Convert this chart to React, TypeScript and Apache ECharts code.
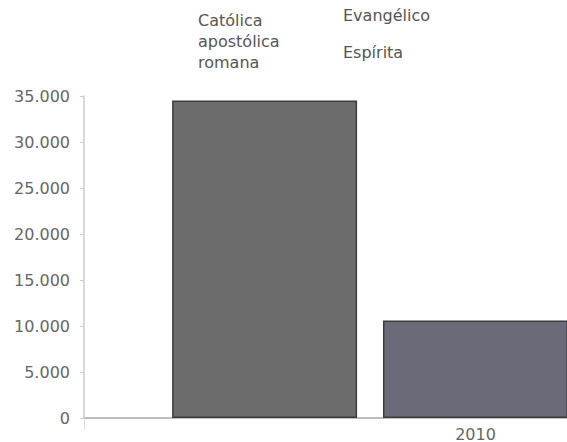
import React, { useEffect, useRef } from "react";
import * as echarts from "echarts";

const categories = ["2010"];
const seriesNames = ["Católica apostólica romana", "Evangélico", "Espírita"];
const catolicaValues = [34500];
const evangelicoValues = [10600];
const espiritaValues = [1200];
const yTicks = [0, 5000, 10000, 15000, 20000, 25000, 30000, 35000];

const fmt = (v: number) => String(v).replace(/\B(?=(\d{3})+(?!\d))/g, ".");

export default function App() {
  const ref = useRef<HTMLDivElement>(null);
  useEffect(() => {
    if (!ref.current) return;
    const chart = echarts.init(ref.current, undefined, { renderer: "svg" });
    const font = "DejaVu Sans";
    const textStyle = { fontFamily: font, fontSize: 16, color: "#555", lineHeight: 21 };
    chart.setOption({
      animation: false,
      backgroundColor: "#fff",
      legend: [
        {
          data: [seriesNames[0]],
          left: 193,
          top: 10,
          padding: 0,
          itemWidth: 0,
          itemHeight: 0,
          icon: "none",
          textStyle,
          formatter: () => "Católica\napostólica\nromana",
        },
        {
          data: [seriesNames[1], seriesNames[2]],
          orient: "vertical",
          left: 338,
          top: 5,
          padding: 0,
          itemGap: 16,
          itemWidth: 0,
          itemHeight: 0,
          icon: "none",
          textStyle,
        },
      ],
      grid: { left: 84, right: 0, top: 96, bottom: 24, containLabel: false },
      xAxis: {
        type: "category",
        data: categories,
        axisLine: { lineStyle: { color: "#aaa", width: 1.5 } },
        axisTick: { show: true, length: 12, lineStyle: { color: "#ddd" } },
        axisLabel: { fontFamily: font, fontSize: 16, color: "#666", margin: 8 },
      },
      yAxis: {
        type: "value",
        min: yTicks[0],
        max: yTicks[yTicks.length - 1],
        interval: yTicks[1] - yTicks[0],
        axisLine: { show: true, lineStyle: { color: "#ccc", width: 1.5 } },
        axisTick: { show: true, length: 4, lineStyle: { color: "#ccc" } },
        splitLine: { show: false },
        axisLabel: {
          fontFamily: font,
          fontSize: 16,
          color: "#666",
          margin: 14,
          formatter: (v: number) => fmt(v),
        },
      },
      series: [
        {
          name: seriesNames[0],
          type: "bar",
          data: catolicaValues,
          barWidth: 185,
          barGap: "14%",
          itemStyle: { color: "#6c6c6c", borderColor: "#3c3c3c", borderWidth: 1.5 },
        },
        {
          name: seriesNames[1],
          type: "bar",
          data: evangelicoValues,
          barWidth: 185,
          barGap: "14%",
          itemStyle: { color: "#6b6a78", borderColor: "#3c3c3c", borderWidth: 1.5 },
        },
        {
          name: seriesNames[2],
          type: "bar",
          data: espiritaValues,
          barWidth: 185,
          barGap: "14%",
          itemStyle: { color: "#8a8a8a", borderColor: "#3c3c3c", borderWidth: 1.5 },
        },
      ],
    });
    return () => chart.dispose();
  }, []);
  return (
    <div
      style={{
        position: "fixed",
        left: 0,
        top: 0,
        width: 567,
        height: 442,
        overflow: "hidden",
        background: "#fff",
      }}
    >
      <div ref={ref} style={{ width: 867, height: 442 }} />
    </div>
  );
}
